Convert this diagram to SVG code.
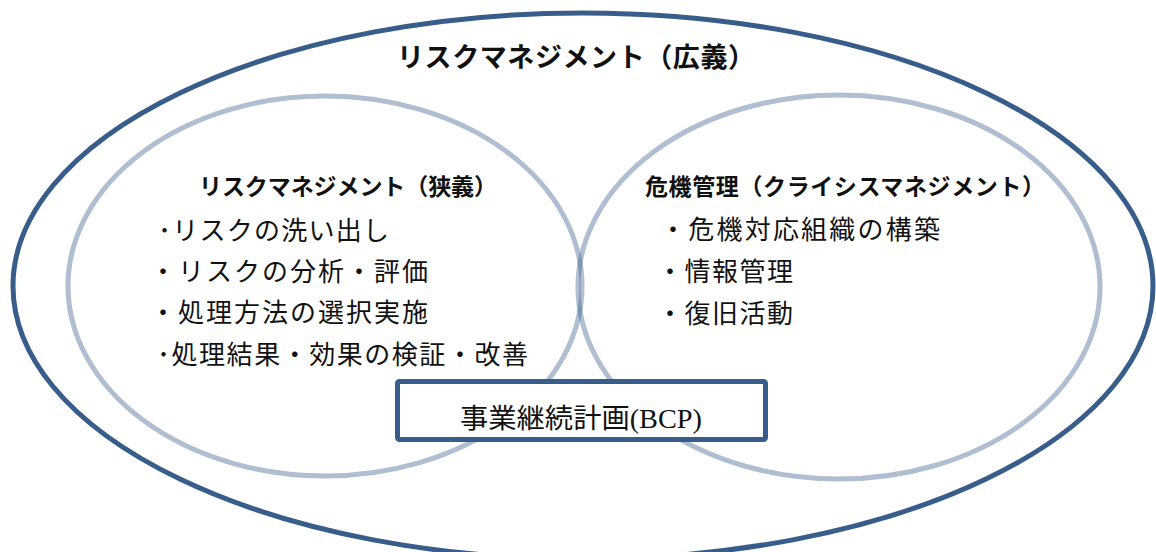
<svg xmlns="http://www.w3.org/2000/svg" width="1156" height="552" viewBox="0 0 1156 552">
<style>
.outer{fill:none;stroke:#385d8a;stroke-width:5}
.inner{fill:none;stroke:#385d8a;stroke-opacity:0.4;stroke-width:5}
.box{fill:#ffffff;stroke:#385d8a;stroke-width:5}
.t{font-family:"Noto Sans CJK JP","Liberation Sans",sans-serif;fill:#111}
.title{font-size:27px;font-weight:700}
.head{font-size:23px;font-weight:700}
.item{font-size:26px;font-weight:400}
.bcp{font-family:"Liberation Serif","Noto Sans CJK JP",serif;font-size:27px;fill:#111}
</style>
<rect width="1156" height="552" fill="#ffffff"/>
<g id="broad">
<ellipse class="outer" cx="583" cy="286" rx="570" ry="273"/>
<text class="t title" x="397" y="67" textLength="358">リスクマネジメント（広義）</text>
</g>
<g id="narrow">
<ellipse class="inner" cx="325" cy="286" rx="257" ry="190"/>
<text class="t head" x="199" y="195" textLength="298">リスクマネジメント（狭義）</text>
<text class="t item" x="158" y="240" textLength="231">･リスクの洗い出し</text>
<text class="t item" x="150" y="281" textLength="278">・リスクの分析・評価</text>
<text class="t item" x="150" y="322" textLength="278">・処理方法の選択実施</text>
<text class="t item" x="157" y="364" textLength="371">･処理結果・効果の検証・改善</text>
</g>
<g id="crisis">
<ellipse class="inner" cx="839" cy="287" rx="261" ry="192"/>
<text class="t head" x="645" y="195" textLength="400">危機管理（クライシスマネジメント）</text>
<text class="t item" x="660" y="239" textLength="280">・危機対応組織の構築</text>
<text class="t item" x="657" y="281" textLength="136">・情報管理</text>
<text class="t item" x="657" y="323" textLength="136">・復旧活動</text>
</g>
<g id="connectors"></g>
<g id="bcp">
<rect class="box" x="397.5" y="381.5" width="368" height="58" rx="2"/>
<text class="bcp" x="460" y="428" textLength="242" lengthAdjust="spacingAndGlyphs">事業継続計画(BCP)</text>
</g>
</svg>
